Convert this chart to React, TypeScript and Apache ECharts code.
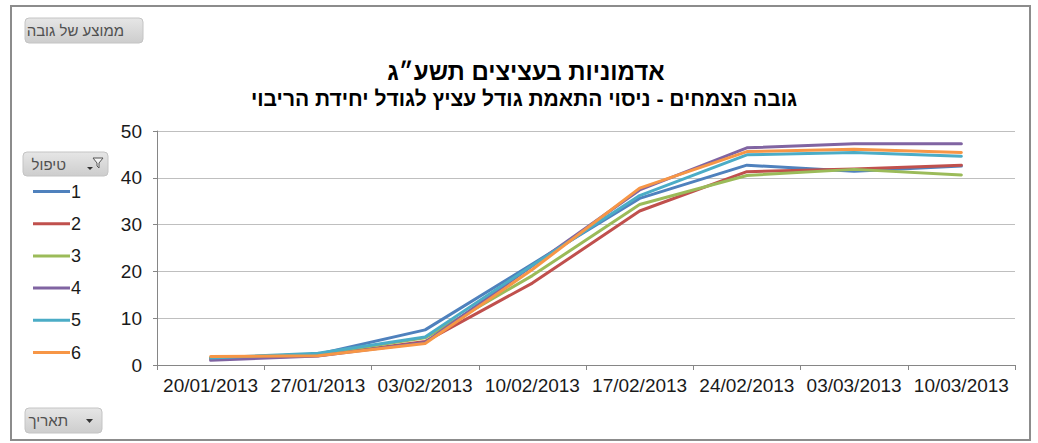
import React, { useEffect, useRef } from "react";
import * as echarts from "echarts";

const dates = ["20/01/2013", "27/01/2013", "03/02/2013", "10/02/2013", "17/02/2013", "24/02/2013", "03/03/2013", "10/03/2013"];
const seriesNames = ["1", "2", "3", "4", "5", "6"];
const s1 = [1.5, 2.3, 7.5, 21.6, 35.6, 42.7, 41.4, 42.5];
const s2 = [1.3, 2.0, 5.0, 17.5, 32.9, 41.3, 41.9, 42.7];
const s3 = [1.5, 2.3, 5.8, 19.1, 34.3, 40.5, 41.8, 40.6];
const s4 = [1.0, 1.9, 4.8, 21.2, 37.4, 46.4, 47.3, 47.3];
const s5 = [1.5, 2.5, 6.0, 21.3, 36.2, 44.9, 45.4, 44.6];
const s6 = [1.8, 2.0, 4.6, 20.4, 37.8, 45.6, 46.1, 45.4];
const seriesValues = [s1, s2, s3, s4, s5, s6];
const colors = ["#4F81BD", "#C0504D", "#9BBB59", "#8064A2", "#4BACC6", "#F79646"];
const yTicks = { min: 0, max: 50, interval: 10 };
const titleText = "אדמוניות בעציצים תשע״ג";
const subtitleText = "גובה הצמחים - ניסוי התאמת גודל עציץ לגודל יחידת הריבוי";
const valueButton = "ממוצע של גובה";
const legendButton = "טיפול";
const axisButton = "תאריך";

const FONT = "'Liberation Sans', Arial, 'DejaVu Sans', sans-serif";

const btnFill = new echarts.graphic.LinearGradient(0, 0, 0, 1, [
  { offset: 0, color: "#e6e6e6" },
  { offset: 1, color: "#cdcdcd" },
]);

function button(x: number, y: number, w: number, h: number, label: string, textRight: number, extra: any[] = []) {
  return {
    type: "group",
    x,
    y,
    children: [
      {
        type: "rect",
        shape: { x: 0, y: 0, width: w, height: h, r: 4 },
        style: { fill: btnFill, stroke: "#c4c4c4", lineWidth: 1 },
      },
      {
        type: "text",
        x: textRight,
        y: h / 2,
        style: {
          text: label,
          font: `15px ${FONT}`,
          fill: "#505050",
          textAlign: "right",
          textVerticalAlign: "middle",
        },
      },
      ...extra,
    ],
  };
}

export default function App() {
  const ref = useRef<HTMLDivElement>(null);
  useEffect(() => {
    if (!ref.current) return;
    const chart = echarts.init(ref.current, null, { renderer: "svg" });
    chart.setOption({
      animation: false,
      backgroundColor: "#ffffff",
      color: colors,
      grid: { left: 157, right: 23, top: 131, bottom: 78, containLabel: false },
      legend: {
        orient: "vertical",
        left: 28,
        top: 177,
        icon: "rect",
        itemWidth: 37,
        itemHeight: 3,
        itemGap: 13.2,
        textStyle: { fontSize: 18, fontFamily: FONT, color: "#1a1a1a", lineHeight: 19, padding: [0, 0, 0, -4] },
        data: seriesNames,
      },
      xAxis: {
        type: "category",
        data: dates,
        boundaryGap: true,
        axisLine: { show: true, lineStyle: { color: "#868686", width: 1 } },
        axisTick: { show: true, length: 5, lineStyle: { color: "#868686" } },
        axisLabel: { fontSize: 19, fontFamily: FONT, color: "#1a1a1a", margin: 11, interval: 0 },
      },
      yAxis: {
        type: "value",
        min: yTicks.min,
        max: yTicks.max,
        interval: yTicks.interval,
        axisLine: { show: true, lineStyle: { color: "#868686", width: 1 } },
        axisTick: { show: true, length: 4, lineStyle: { color: "#868686" } },
        axisLabel: { fontSize: 19, fontFamily: FONT, color: "#1a1a1a", margin: 15 },
        splitLine: { show: true, lineStyle: { color: "#bfbfbf", width: 1.2 } },
      },
      series: seriesNames.map((name, i) => ({
        name,
        type: "line",
        data: seriesValues[i],
        showSymbol: false,
        symbol: "none",
        lineStyle: { width: 3, color: colors[i], cap: "round", join: "round" },
        itemStyle: { color: colors[i] },
      })),
      graphic: [
        {
          type: "rect",
          shape: { x: 11, y: 6, width: 1019, height: 434 },
          style: { fill: "none", stroke: "#8c8c8c", lineWidth: 2 },
          silent: true,
        },
        {
          type: "text",
          x: 526,
          y: 71,
          style: {
            text: titleText,
            font: `bold 24px ${FONT}`,
            fill: "#000",
            textAlign: "center",
            textVerticalAlign: "middle",
          },
        },
        {
          type: "text",
          x: 524,
          y: 98,
          style: {
            text: subtitleText,
            font: `bold 21px ${FONT}`,
            fill: "#000",
            textAlign: "center",
            textVerticalAlign: "middle",
          },
        },
        button(25, 18, 118, 25, valueButton, 99),
        button(23, 152, 85, 24, legendButton, 43, [
          {
            type: "polygon",
            shape: { points: [[70, 6], [80, 6], [76, 11], [76, 16], [74, 14], [74, 11]] },
            style: { fill: "#f4f4f4", stroke: "#555", lineWidth: 1 },
          },
          {
            type: "polygon",
            shape: { points: [[64, 15], [70, 15], [67, 18]] },
            style: { fill: "#333" },
          },
        ]),
        button(25, 408, 77, 25, axisButton, 43, [
          {
            type: "polygon",
            shape: { points: [[61, 11], [68, 11], [64.5, 15]] },
            style: { fill: "#333" },
          },
        ]),
      ],
    });
    return () => chart.dispose();
  }, []);
  return (
    <div
      ref={ref}
      style={{ position: "fixed", left: 0, top: 0, width: 1038, height: 443 }}
    />
  );
}
